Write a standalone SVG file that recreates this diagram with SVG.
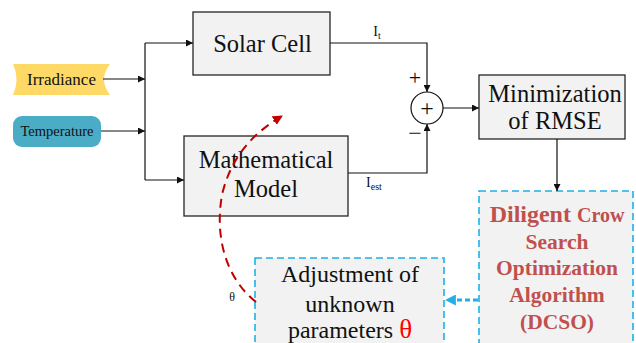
<svg xmlns="http://www.w3.org/2000/svg" width="636" height="343" viewBox="0 0 636 343">
<style>
.box{fill:#F2F2F2;stroke:#262626;stroke-width:1.3}
.dbox{fill:#F2F2F2;stroke:#1FB0E8;stroke-width:1.6;stroke-dasharray:7,4}
.t{fill:#111;text-anchor:middle}
.ln{fill:none;stroke:#111;stroke-width:1.2}
.red{fill:#C0504D;font-weight:bold;text-anchor:middle}
</style>
<defs>
<marker id="ah" viewBox="0 0 10 10" refX="10" refY="5" markerWidth="7" markerHeight="7" orient="auto" markerUnits="userSpaceOnUse"><path d="M0,0 L10,5 L0,10 Z" fill="#111"/></marker>
<marker id="ahr" viewBox="0 0 10 10" refX="9" refY="5" markerWidth="10" markerHeight="10" orient="auto" markerUnits="userSpaceOnUse"><path d="M0,0 L10,5 L0,10 Z" fill="#C00000"/></marker>
<marker id="ahb" viewBox="0 0 10 10" refX="9" refY="5" markerWidth="11" markerHeight="11" orient="auto" markerUnits="userSpaceOnUse"><path d="M0,0 L10,5 L0,10 Z" fill="#1FB0E8"/></marker>
</defs>
<g font-family="Liberation Serif, Times New Roman, DejaVu Serif, serif">
<g id="irradiance">
<path d="M13,64 L110,64 Q98,79.5 110,95 L13,95 Q20,79.5 13,64 Z" fill="#FFD966"/>
<text x="61.5" y="85" class="t" font-size="17">Irradiance</text>
</g>
<g id="temperature">
<rect x="13" y="116" width="88" height="31" rx="9" fill="#4BACC6"/>
<text x="57" y="136" class="t" font-size="14.5">Temperature</text>
</g>
<g id="solar-cell">
<rect class="box" x="193" y="12" width="137" height="63"/>
<text x="262.5" y="52" class="t" font-size="24.5">Solar Cell</text>
</g>
<g id="math-model">
<rect class="box" x="184" y="136" width="164" height="80"/>
<text x="266" y="168" class="t" font-size="24.5">Mathematical</text>
<text x="266" y="197" class="t" font-size="24.5">Model</text>
</g>
<g id="sum">
<circle cx="427" cy="108" r="16" fill="#fff" stroke="#111" stroke-width="1.2"/>
<text x="427" y="116" class="t" font-size="24">+</text>
</g>
<g id="minimization">
<rect class="box" x="479" y="75" width="146" height="64"/>
<text x="555" y="102" class="t" font-size="24.5">Minimization</text>
<text x="555" y="129" class="t" font-size="24.5">of RMSE</text>
</g>
<g id="dcso">
<rect class="dbox" x="479" y="191" width="154" height="160"/>
<text x="557" y="222" class="red" font-size="24">Diligent <tspan font-size="20">Crow</tspan></text>
<text x="557" y="249" class="red" font-size="21.5">Search</text>
<text x="557" y="275" class="red" font-size="21.5">Optimization</text>
<text x="557" y="302" class="red" font-size="21.5">Algorithm</text>
<text x="557" y="329" class="red" font-size="21.5">(DCSO)</text>
</g>
<g id="adjustment">
<rect class="dbox" x="255" y="258" width="189" height="95"/>
<text x="350" y="282" class="t" font-size="24">Adjustment of</text>
<text x="350" y="312" class="t" font-size="24">unknown</text>
<text x="350" y="338" class="t" font-size="24">parameters <tspan fill="#FF0000" font-size="27">θ</tspan></text>
</g>

<g id="connectors">
<line class="ln" x1="103" y1="79" x2="145" y2="79" marker-end="url(#ah)"/>
<line class="ln" x1="101" y1="131" x2="145" y2="131" marker-end="url(#ah)"/>
<polyline class="ln" points="145,43 145,180"/>
<line class="ln" x1="145" y1="43" x2="193" y2="43" marker-end="url(#ah)"/>
<line class="ln" x1="145" y1="180" x2="184" y2="180" marker-end="url(#ah)"/>
<polyline class="ln" points="330,43 427,43 427,92" marker-end="url(#ah)"/>
<polyline class="ln" points="348,173 427,173 427,124" marker-end="url(#ah)"/>
<line class="ln" x1="443" y1="108" x2="479" y2="108" marker-end="url(#ah)"/>
<line class="ln" x1="557" y1="139" x2="557" y2="191" marker-end="url(#ah)"/>
<line x1="478" y1="300" x2="446" y2="300" stroke="#1FB0E8" stroke-width="3" stroke-dasharray="5,3" marker-end="url(#ahb)"/>
<path d="M256,302 C228,280 214,240 222,195 C230,160 250,135 282,116" fill="none" stroke="#C00000" stroke-width="2" stroke-dasharray="9,6" marker-end="url(#ahr)"/>
<text x="377" y="36" class="t" font-size="14">I<tspan font-size="10" dy="3">t</tspan></text>
<text x="374" y="187" class="t" font-size="14">I<tspan font-size="10" dy="3">est</tspan></text>
<text x="232" y="301" class="t" font-size="12">θ</text>
<text x="415" y="85" class="t" font-size="22">+</text>
<text x="415" y="141" class="t" font-size="24">−</text>
</g>
</g>
</svg>
